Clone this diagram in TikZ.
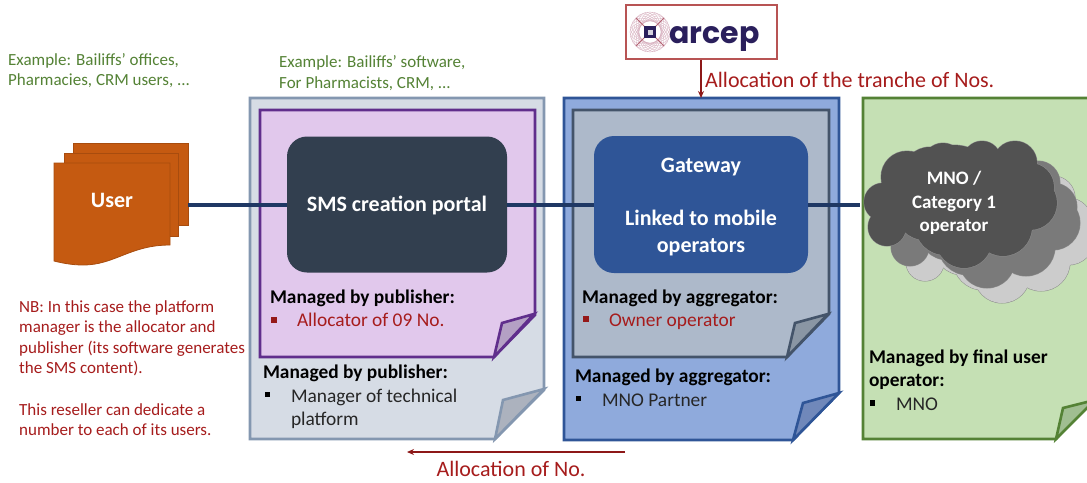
\documentclass[tikz,border=0pt]{standalone}
\usepackage{fontspec}
\setmainfont{Carlito}
\newfontfamily\logofont{Poppins}
\usetikzlibrary{arrows.meta}
\definecolor{navy}{HTML}{1F3864}
\definecolor{orangeD}{HTML}{C55A11}
\definecolor{orangeL}{HTML}{A84C0E}
\definecolor{redT}{HTML}{A61C1C}
\definecolor{greenT}{HTML}{548235}
\definecolor{logoNavy}{HTML}{2A1F5C}
\tikzset{
  x=1pt,y=-1pt,
  txt/.style={inner sep=0pt,outer sep=0pt,anchor=base west,font=\fontsize{19.4}{22}\selectfont,text=black!85},
  hd/.style={txt,font=\fontsize{19.4}{22}\selectfont\bfseries,text=black},
  green note/.style={inner sep=0pt,anchor=north west,align=left,text=greenT,font=\fontsize{17}{20.7}\selectfont},
  red note/.style={inner sep=0pt,anchor=north west,align=left,text=redT,font=\fontsize{17}{20.6}\selectfont},
  wb/.style={inner sep=0pt,text=white,align=center,font=\fontsize{22}{26.5}\selectfont\bfseries},
  sheet/.style={line width=2.6pt,line join=miter},
  conn/.style={navy,line width=4pt},
  redarrow/.style={-{Stealth[length=7pt,width=6pt]},line width=1.4pt,draw=redT!85!black},
  redbig/.style={inner sep=0pt,text=redT,font=\fontsize{22}{26}\selectfont},
  box/.style={draw=none,rounded corners=20pt,inner sep=0pt},
}
% cloud: #1 x offset, #2 y offset, #3 fill
\newcommand{\cloudlist}{907/177/26,883/202/19,887/227/19,964/240/28,1003/227/29,943/163/20,982/160/19,1015/163/22,1030/187/24,1030/203/27,953/197/52,925/210/30,1000/195/40,905/205/26,945/225/30,985/178/30,1012/208/26,930/175/28}
\newcommand{\cloudshape}[3]{%
  \begin{scope}[shift={(#1,#2)}]
    \foreach \cx/\cy/\r in \cloudlist{
      \draw[draw=black!45,line width=1pt] (\cx,\cy) circle[radius=\r];
    }
    \foreach \cx/\cy/\r in \cloudlist{
      \fill[#3] (\cx,\cy) circle[radius=\r];
    }
  \end{scope}}
\begin{document}
\begin{tikzpicture}
\useasboundingbox (0,0) rectangle (1087,482);
\fill[white] (0,0) rectangle (1087,482);

% sheet 1
\draw[sheet,fill={rgb,255:red,214;green,220;blue,229},draw={rgb,255:red,132;green,151;blue,176}]
  (250,98) -- (544,98) -- (544,390) -- (495,439) -- (250,439) -- cycle;
\draw[sheet,fill={rgb,255:red,172;green,178;blue,190},draw={rgb,255:red,132;green,151;blue,176}]
  (495,439) -- (503,400) -- (544,389) -- cycle;
\draw[sheet,fill={rgb,255:red,225;green,200;blue,236},draw={rgb,255:red,96;green,46;blue,140}]
  (260,110) -- (535,110) -- (535,315) -- (494,357) -- (260,357) -- cycle;
\draw[sheet,fill={rgb,255:red,180;green,160;blue,196},draw={rgb,255:red,96;green,46;blue,140}]
  (494,357) -- (502,323) -- (534,314) -- cycle;

% sheet 2
\draw[sheet,fill={rgb,255:red,143;green,170;blue,220},draw={rgb,255:red,47;green,85;blue,151}]
  (564,98) -- (839,98) -- (839,393) -- (793,440) -- (564,440) -- cycle;
\draw[sheet,fill={rgb,255:red,112;green,136;blue,186},draw={rgb,255:red,47;green,85;blue,151}]
  (793,440) -- (803,403) -- (839,393) -- cycle;
\draw[sheet,fill={rgb,255:red,173;green,185;blue,202},draw={rgb,255:red,68;green,84;blue,106}]
  (573,110) -- (829,110) -- (829,314) -- (787,357) -- (573,357) -- cycle;
\draw[sheet,fill={rgb,255:red,138;green,150;blue,164},draw={rgb,255:red,68;green,84;blue,106}]
  (787,357) -- (795,323) -- (828,314) -- cycle;

% sheet 3
\draw[sheet,fill={rgb,255:red,197;green,224;blue,180},draw={rgb,255:red,84;green,130;blue,53}]
  (863,98) -- (1095,98) -- (1095,395) -- (1056,439) -- (863,439) -- cycle;
\draw[sheet,fill={rgb,255:red,160;green,190;blue,145},draw={rgb,255:red,84;green,130;blue,53}]
  (1056,439) -- (1063,408) -- (1095,400) -- cycle;

% portal and gateway
\node[box,fill={rgb,255:red,50;green,63;blue,79},minimum width=220pt,minimum height=136pt] (portal) at (397,204.5) {};
\node[wb] (portaltxt) at (397,205) {SMS creation portal};
\node[box,fill={rgb,255:red,47;green,85;blue,151},minimum width=214pt,minimum height=137pt] (gateway) at (701,204.5) {};
\node[wb] (gwtop) at (701,167) {Gateway};
\node[wb] (gwbot) at (701,233) {Linked to mobile\\operators};

% user stack
\draw[fill=orangeD,draw=orangeL,line width=.8pt] (73,143) rectangle (188,225);
\draw[fill=orangeD,draw=orangeL,line width=.8pt] (64,153) rectangle (178,236);
\draw[fill=orangeD,draw=orangeL,line width=.8pt] (54,163) -- (170,163) -- (170,245)
  .. controls (130,245) and (115,265) .. (83,265)
  .. controls (72,265) and (62,263) .. (54,261) -- cycle;
\node[wb] (user) at (112,200) {User};

% clouds
\cloudshape{38}{35}{black!20}
\cloudshape{23}{20}{black!52}
\cloudshape{0}{0}{black!68}
\node[wb,font=\fontsize{19}{23.5}\selectfont\bfseries] (mno) at (954,203) {MNO /\\Category 1\\operator};

% connectors
\coordinate (linestart) at (188,204.5);
\coordinate (lineend) at (860,204.5);
\draw[conn] (linestart) -- (portal.west);
\draw[conn] (portal.east) -- (gateway.west);
\draw[conn] (gateway.east) -- (lineend);

% arcep logo
\node[draw={rgb,255:red,184;green,84;blue,84},line width=1.2pt,fill=white,minimum width=151pt,minimum height=54pt,inner sep=0pt] (logo) at (701.5,32) {};
\foreach \a in {0,15,...,165}{
  \draw[draw={rgb,255:red,215;green,175;blue,190},line width=.35pt,rotate around={\a:(650,32)}] (650,32) ellipse[x radius=20,y radius=11];
}
\draw[draw={rgb,255:red,180;green,100;blue,115},line width=1pt] (636,18) -- (664,46) (664,18) -- (636,46);
\fill[logoNavy] (644,26) rectangle (656,38);
\fill[white!80!logoNavy] (647.5,29.5) rectangle (652.5,34.5);
\node[inner sep=0pt,anchor=base west,text=logoNavy,font=\logofont\fontsize{30}{32}\selectfont\bfseries] (logotxt) at (669,43) {arcep};

% arrows
\coordinate (gwtopedge) at (701,98);
\draw[redarrow] (logo.south -| gwtopedge) -- (gwtopedge);
\node[redbig,anchor=base west] (alloc1) at (705,87) {Allocation of the tranche of Nos.};
\coordinate (a2s) at (625,452);
\coordinate (a2e) at (407,452);
\draw[redarrow] (a2s) -- (a2e);
\node[redbig,anchor=base] (alloc2) at (511,476) {Allocation of No.};

% notes
\node[green note] (n1) at (8,53) {Example: Bailiffs’ offices,\\Pharmacies, CRM users, ...};
\node[green note] (n2) at (279,55.5) {Example: Bailiffs’ software,\\For Pharmacists, CRM, ...};
\node[red note] (n3) at (19,300) {NB: In this case the platform\\manager is the allocator and\\publisher (its software generates\\the SMS content).\\[20.6pt]This reseller can dedicate a\\number to each of its users.};

% sheet labels
\node[hd] (h1) at (270,303) {Managed by publisher:};
\fill[redT!90!black] (271,317) rectangle (277,323);
\node[txt,text=redT] (l1) at (297,326) {Allocator of 09 No.};
\node[hd] (h2) at (263,378.5) {Managed by publisher:};
\fill[black] (265,392) rectangle (270,397);
\node[txt] (l2) at (291,402.5) {Manager of technical};
\node[txt] (l3) at (291,425.5) {platform};
\node[hd] (h3) at (582,303) {Managed by aggregator:};
\fill[redT!90!black] (583,316) rectangle (589,322);
\node[txt,text=redT] (l4) at (609,326) {Owner operator};
\node[hd] (h4) at (575,382.5) {Managed by aggregator:};
\fill[black] (576,396) rectangle (581,401);
\node[txt] (l5) at (602,406.5) {MNO Partner};
\node[hd] (h5) at (869,363) {Managed by final user};
\node[hd] (h6) at (869,386) {operator:};
\fill[black] (870,400) rectangle (875,406);
\node[txt] (l6) at (896,410) {MNO};
\end{tikzpicture}
\end{document}
